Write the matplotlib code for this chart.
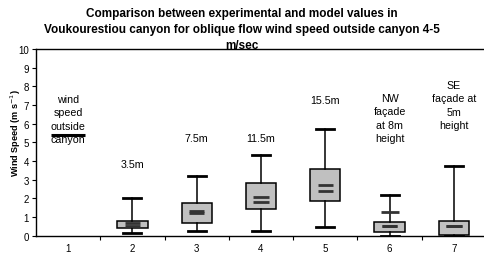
import matplotlib.pyplot as plt

plt.rcParams['font.family'] = ['Liberation Sans', 'DejaVu Sans']

positions = [2, 3, 4, 5, 6, 7]
whis_lo = [0.15, 0.24, 0.24, 0.45, 0.0, 0.0]
q1 = [0.40, 0.67, 1.44, 1.85, 0.22, 0.05]
q3 = [0.80, 1.76, 2.82, 3.55, 0.72, 0.77]
whis_hi = [2.02, 3.19, 4.30, 5.74, 2.19, 3.73]
model_a = [0.67, 1.31, 2.06, 2.74, 0.54, 0.54]
model_b = [0.54, 1.20, 1.80, 2.39, 0.54, 0.54]
extra_pos = [6]
extra_val = [1.26]
outside_speed = 5.4

labels = ['3.5m', '7.5m', '11.5m', '15.5m', 'NW\nfaçade\nat 8m\nheight', 'SE\nfaçade at\n5m\nheight']
label_y = [3.85, 5.25, 5.25, 7.25, 6.3, 7.0]

fig = plt.figure(figsize=(4.84, 2.55), dpi=100)
ax = fig.add_axes([36 / 484, 18.3 / 255, 450 / 484, 186.7 / 255])

stats = []
for i in range(len(positions)):
    stats.append({'whislo': whis_lo[i], 'q1': q1[i], 'med': model_a[i],
                  'q3': q3[i], 'whishi': whis_hi[i], 'fliers': []})

ax.bxp(stats, positions=positions, widths=0.47, patch_artist=True, showfliers=False,
       boxprops=dict(facecolor='#c0c0c0', edgecolor='black', linewidth=1.1),
       whiskerprops=dict(color='black', linewidth=1.1),
       capprops=dict(color='black', linewidth=2.0),
       capwidths=0.28,
       medianprops=dict(linewidth=0), manage_ticks=False, zorder=2)

for p, a, b in zip(positions, model_a, model_b):
    ax.hlines([a, b], p - 0.12, p + 0.12, colors='#333333', linewidth=2.0, zorder=3)
for p, v in zip(extra_pos, extra_val):
    ax.hlines(v, p - 0.14, p + 0.14, colors='#333333', linewidth=2.0, zorder=3)

ax.hlines(outside_speed, 1 - 0.26, 1 + 0.26, colors='black', linewidth=2.2, zorder=3)
ax.text(1, 6.25, 'wind\nspeed\noutside\ncanyon', ha='center', va='center',
        fontsize=7.7, linespacing=1.45)

for p, t, y in zip(positions, labels, label_y):
    ax.text(p, y, t, ha='center', va='center', fontsize=7.7, linespacing=1.45)

ax.set_xlim(0.5, 7.5)
ax.set_ylim(0, 10)
ax.set_yticks(range(0, 11))
ax.set_xticks([1.5, 2.5, 3.5, 4.5, 5.5, 6.5])
ax.set_xticklabels([])
ax.set_xticks(range(1, 8), minor=True)
ax.set_xticklabels([str(i) for i in range(1, 8)], minor=True)
ax.tick_params(axis='x', which='minor', length=0, pad=5, labelsize=7)
ax.tick_params(axis='x', which='major', length=3, direction='out')
ax.tick_params(axis='y', length=3, direction='out', labelsize=7, pad=2)
ax.spines['right'].set_visible(False)
for s in ['left', 'bottom', 'top']:
    ax.spines[s].set_linewidth(1.0)

ax.set_ylabel('Wind Speed (m s$^{-1}$)', fontsize=6.6, fontweight='bold')
ax.yaxis.set_label_coords(-13 / 450, 0.555)

fig.text(0.5, 1 - 30 / 255, 'Comparison between experimental and model values in\n'
         'Voukourestiou canyon for oblique flow wind speed outside canyon 4-5\nm/sec',
         ha='center', va='center', fontsize=8.5, fontweight='bold', linespacing=1.4)

fig.savefig('out.png', dpi=100)
